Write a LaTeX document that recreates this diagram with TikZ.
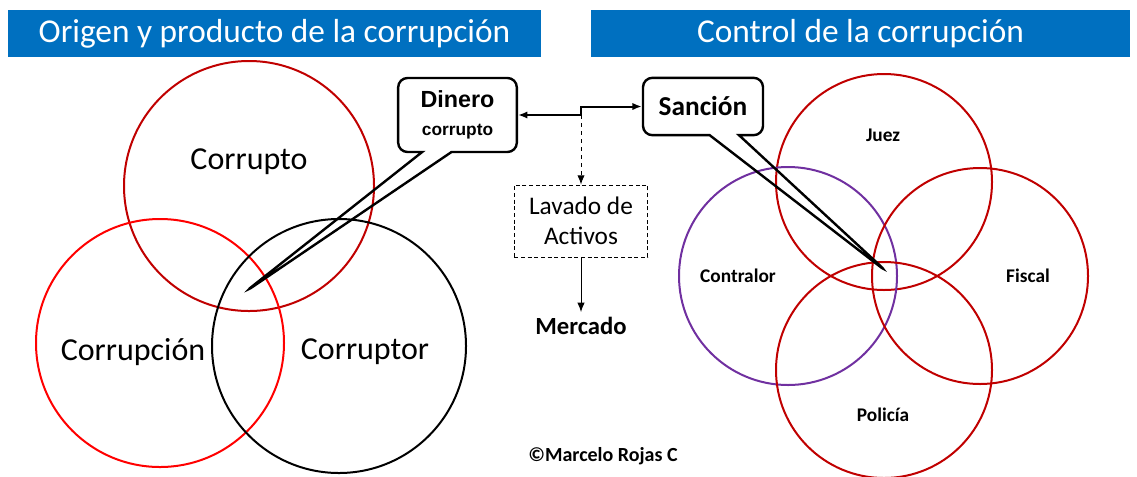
\documentclass[tikz,border=0pt]{standalone}
\usepackage{fontspec}
\setmainfont{Carlito}
\newfontfamily\arialfont{Liberation Sans}
\usetikzlibrary{arrows.meta,positioning,shapes.callouts}
\definecolor{titleblue}{HTML}{0070C0}
\definecolor{darkred}{HTML}{C00000}
\definecolor{violeta}{HTML}{7030A0}

\begin{document}
\begin{tikzpicture}[
  x=0.75pt, y=-0.75pt,
  >={Latex[length=7pt,width=5.5pt]},
  titlebar/.style={fill=titleblue, text=white, minimum height=35.25pt, inner sep=0pt, font=\fontsize{25}{30}\selectfont},
  ring/.style={circle, draw=#1, line width=1.5pt, inner sep=0pt},
  biglabel/.style={font=\fontsize{24}{28}\selectfont},
  smalllabel/.style={font=\bfseries\fontsize{14.5}{17}\selectfont},
  bubble/.style={rectangle callout, draw, line width=1.8pt, rounded corners=7pt, callout pointer width=22pt, align=center, inner sep=0pt},
  dashbox/.style={rectangle, draw, dash pattern=on 3pt off 2pt, line width=0.6pt, align=center, minimum width=100pt, minimum height=54pt, font=\fontsize{19}{22.5}\selectfont}
]
\useasboundingbox (0,0) rectangle (1137,476);

% titles
\node[titlebar, minimum width=399.75pt] (origen) at (274.5,33.5) {Origen y producto de la corrupción};
\node[titlebar, minimum width=404.25pt] (control) at (860.5,33.5) {Control de la corrupción};

% left circles
\node[ring=darkred, minimum size=187.5pt] (corrupto) at (249,186) {};
\node[ring=red, minimum size=186pt] (corrupcion) at (160,343) {};
\node[ring=black, minimum size=190.5pt] (corruptor) at (339,346) {};
\node[biglabel] (lcorrupto) at (249,162) {Corrupto};
\node[biglabel] (lcorrupcion) at (133,352) {Corrupción};
\node[biglabel] (lcorruptor) at (365,352) {Corruptor};

% right circles
\node[ring=darkred, minimum size=162pt] (juez) at (884,182) {};
\node[ring=violeta, minimum size=163.5pt] (contralor) at (788,276) {};
\node[ring=darkred, minimum size=162pt] (fiscal) at (980,276) {};
\node[ring=darkred, minimum size=162pt] (policia) at (884,370) {};
\node[smalllabel] (ljuez) at (883,135) {Juez};
\node[smalllabel] (lcontralor) at (738,276) {Contralor};
\node[smalllabel] (lfiscal) at (1028,276) {Fiscal};
\node[smalllabel] (lpolicia) at (883,415) {Policía};

% callouts
\node[bubble, minimum width=89pt, minimum height=55.5pt, callout absolute pointer={(245,292)},
  font=\arialfont\bfseries\fontsize{13}{16}\selectfont] (dinero) at (457.5,115)
  {{\fontsize{17.5}{21}\selectfont Dinero}\\[5pt]corrupto};
\node[bubble, minimum width=90pt, minimum height=43pt, callout absolute pointer={(887,272)}] (sancion) at (703,106.5)
  {\bfseries\fontsize{20.5}{24}\selectfont Sanción};

% middle
\coordinate (split) at (581,115);
\node[dashbox] (lavado) at (581,221) {Lavado de\\Activos};
\node[below=41pt of lavado, font=\bfseries\fontsize{18.5}{22}\selectfont] (mercado) {Mercado};
\node[font=\bfseries\fontsize{15}{18}\selectfont] (autor) at (603,456) {©Marcelo Rojas C};

\draw[line width=1.5pt, ->] (split) -- (dinero.east);
\draw[line width=1.5pt, ->] (split) |- (sancion.west);
\draw[line width=0.75pt, dashed, ->] (split) -- (lavado.north);
\draw[line width=0.75pt, ->] (lavado) -- (mercado);

\end{tikzpicture}
\end{document}
